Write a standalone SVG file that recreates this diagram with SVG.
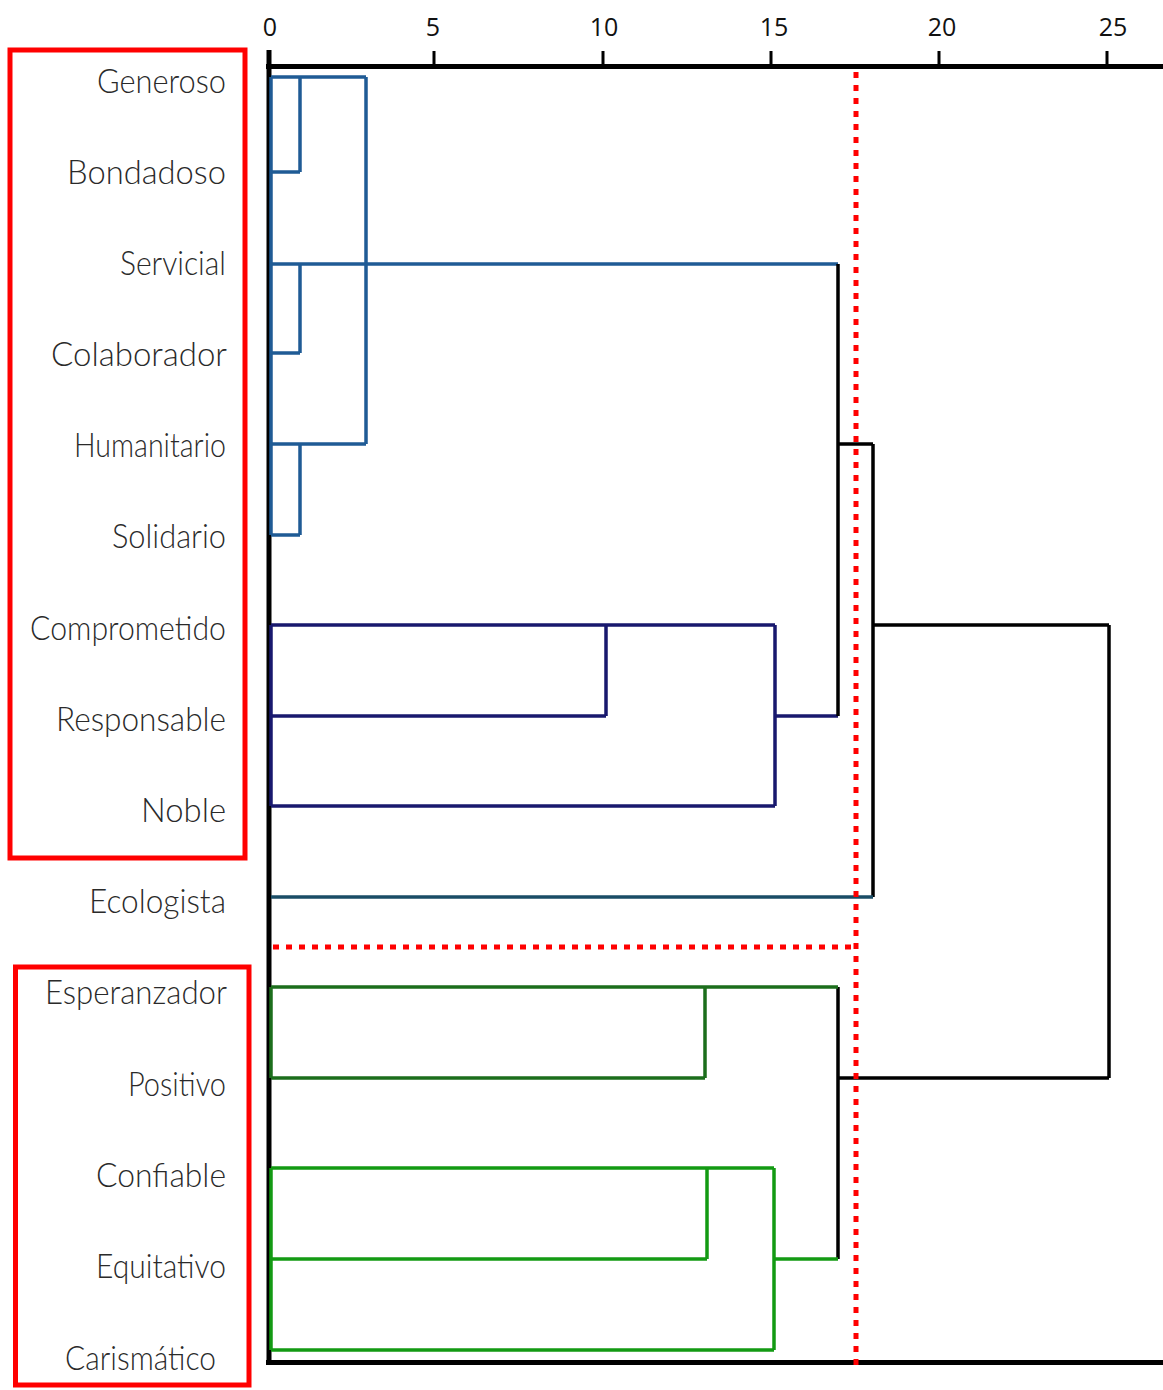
<svg xmlns="http://www.w3.org/2000/svg" width="1163" height="1390" viewBox="0 0 1163 1390">
<style>
.lbl{font-family:Lato,"Open Sans","DejaVu Sans",sans-serif;font-weight:300;font-size:33px;fill:#2a2a2a;text-anchor:end}
.ax{font-family:"Open Sans","Liberation Sans",sans-serif;font-size:25px;fill:#111;text-anchor:middle}
.axis{stroke:#000;stroke-width:5;fill:none}
.tick{stroke:#000;stroke-width:3;fill:none}
.blk{stroke:#000;stroke-width:3.5;fill:none}
.blue{stroke:#1f5b95;stroke-width:3.5;fill:none}
.navy{stroke:#18186e;stroke-width:3.5;fill:none}
.teal{stroke:#1a4d66;stroke-width:3.5;fill:none}
.dg{stroke:#1c6e1c;stroke-width:3.5;fill:none}
.lg{stroke:#139a13;stroke-width:3.5;fill:none}
.cut{stroke:#ff0000;stroke-width:5;stroke-dasharray:6 7;fill:none}
.box{stroke:#ff0000;stroke-width:5;fill:none}
</style>
<rect width="1163" height="1390" fill="#fff"/>
<g id="axis">
<path class="axis" d="M266,66.5H1163M266,1362.5H1163M269,50V1364"/>
<path class="tick" d="M434,51V66M603,51V66M771,51V66M939,51V66M1107,51V66"/>
<text class="ax" x="270" y="36">0</text>
<text class="ax" x="433" y="36">5</text>
<text class="ax" x="604" y="36">10</text>
<text class="ax" x="774" y="36">15</text>
<text class="ax" x="942" y="36">20</text>
<text class="ax" x="1113" y="36">25</text>
</g>
<g id="groups">
<rect id="group1" class="box" x="10" y="50" width="235" height="808"/>
<rect id="group2" class="box" x="15.5" y="967" width="233.5" height="418"/>
</g>
<g id="connectors">
<path class="blue" d="M271,77V535M271,77H366M271,172H300M300,77V172M366,77V444M271,264H838M300,264V353M271,353H300M271,444H366M300,444V535M271,535H300"/>
<path class="navy" d="M271,625V806M271,625H775M271,716H606M606,625V716M775,625V806M271,806H775M775,716H838"/>
<path class="blk" d="M838,264V716M838,444H873M873,444V897M873,625H1109M1109,625V1078M838,1078H1109M838,987V1259"/>
<path class="teal" d="M271,897H873"/>
<path class="dg" d="M271,987V1078M271,987H838M271,1078H705M705,987V1078"/>
<path class="lg" d="M271,1168V1350M271,1168H774M271,1259H707M707,1168V1259M774,1168V1350M271,1350H774M774,1259H838"/>
<path class="cut" d="M856,72V1370M273,947H856"/>
</g>
<g id="n-generoso"><text class="lbl" x="226" y="93" textLength="129" lengthAdjust="spacingAndGlyphs">Generoso</text></g>
<g id="n-bondadoso"><text class="lbl" x="226" y="184" textLength="159" lengthAdjust="spacingAndGlyphs">Bondadoso</text></g>
<g id="n-servicial"><text class="lbl" x="226" y="275" textLength="106" lengthAdjust="spacingAndGlyphs">Servicial</text></g>
<g id="n-colaborador"><text class="lbl" x="227" y="366" textLength="176" lengthAdjust="spacingAndGlyphs">Colaborador</text></g>
<g id="n-humanitario"><text class="lbl" x="226" y="457" textLength="152" lengthAdjust="spacingAndGlyphs">Humanitario</text></g>
<g id="n-solidario"><text class="lbl" x="226" y="548" textLength="114" lengthAdjust="spacingAndGlyphs">Solidario</text></g>
<g id="n-comprometido"><text class="lbl" x="226" y="640" textLength="196" lengthAdjust="spacingAndGlyphs">Comprometido</text></g>
<g id="n-responsable"><text class="lbl" x="226" y="731" textLength="170" lengthAdjust="spacingAndGlyphs">Responsable</text></g>
<g id="n-noble"><text class="lbl" x="226" y="822" textLength="85" lengthAdjust="spacingAndGlyphs">Noble</text></g>
<g id="n-ecologista"><text class="lbl" x="226" y="913" textLength="137" lengthAdjust="spacingAndGlyphs">Ecologista</text></g>
<g id="n-esperanzador"><text class="lbl" x="227" y="1004" textLength="182" lengthAdjust="spacingAndGlyphs">Esperanzador</text></g>
<g id="n-positivo"><text class="lbl" x="226" y="1096" textLength="98" lengthAdjust="spacingAndGlyphs">Positivo</text></g>
<g id="n-confiable"><text class="lbl" x="226" y="1187" textLength="130" lengthAdjust="spacingAndGlyphs">Confiable</text></g>
<g id="n-equitativo"><text class="lbl" x="226" y="1278" textLength="130" lengthAdjust="spacingAndGlyphs">Equitativo</text></g>
<g id="n-carismatico"><text class="lbl" x="216" y="1370" textLength="151" lengthAdjust="spacingAndGlyphs">Carismático</text></g>
</svg>
